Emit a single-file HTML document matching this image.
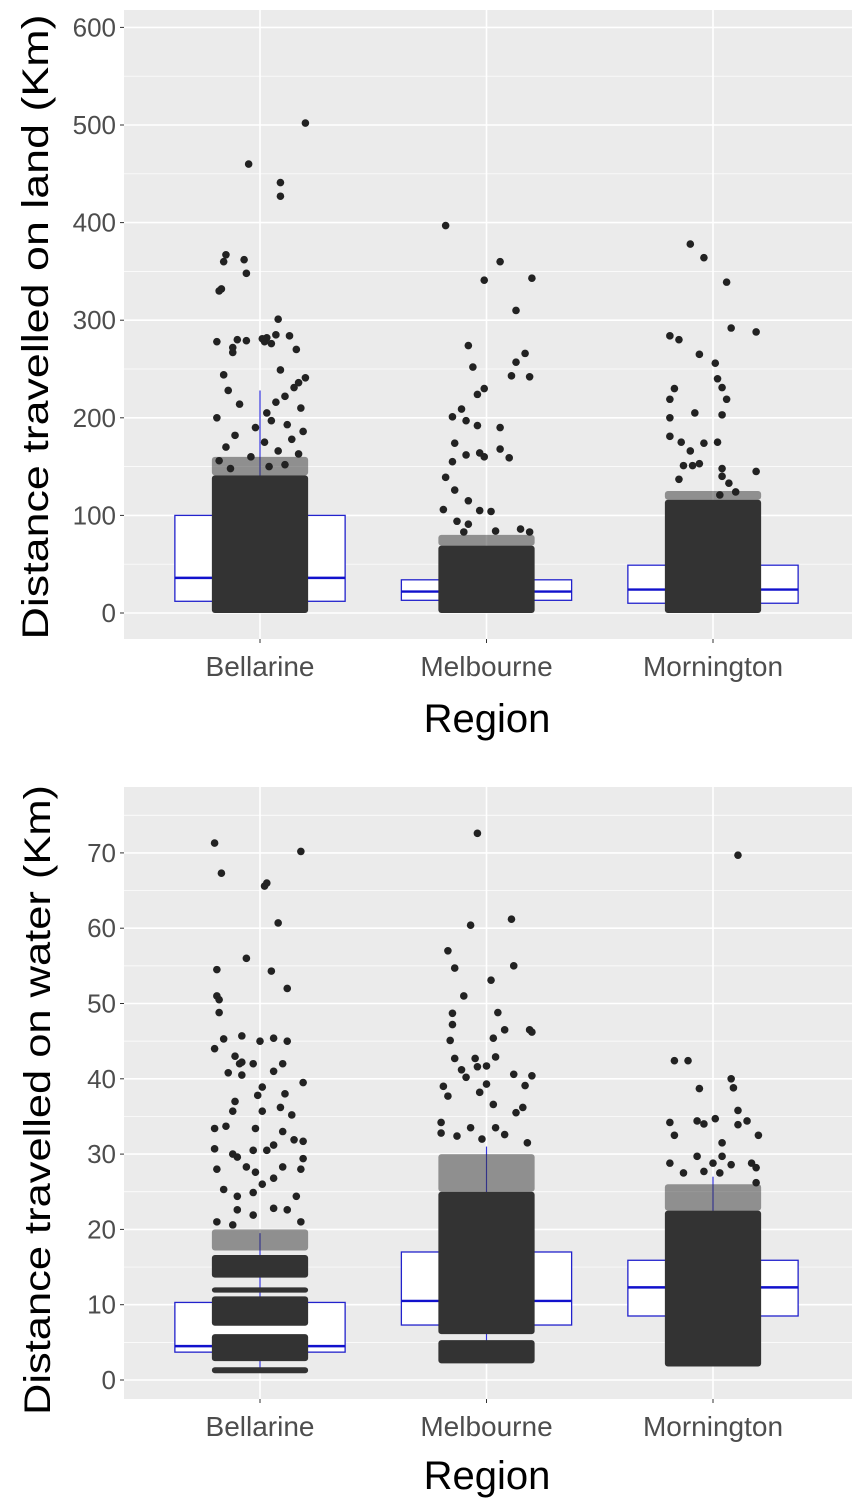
<!DOCTYPE html>
<html><head><meta charset="utf-8">
<style>
html,body{margin:0;padding:0;background:#fff;}
svg{display:block;font-family:"Liberation Sans",Arial,sans-serif;}
</style></head>
<body>
<svg id="chart" width="863" height="1500" viewBox="0 0 863 1500" xmlns="http://www.w3.org/2000/svg">
<defs>
<clipPath id="clipB"><rect x="0" y="786" width="863" height="714"/></clipPath>
</defs>
<g id="land"></g>
<g id="water"></g>
<text transform="translate(48,327) rotate(-90)" text-anchor="middle" font-size="37" fill="#000" textLength="625" lengthAdjust="spacingAndGlyphs">Distance travelled on land (Km)</text>
<text x="487" y="732" text-anchor="middle" font-size="40" fill="#000">Region</text>
<g clip-path="url(#clipB)"><text transform="translate(50,1100) rotate(-90)" text-anchor="middle" font-size="37" fill="#000" textLength="630" lengthAdjust="spacingAndGlyphs">Distance travelled on water (Km)</text></g>
<text x="487" y="1489" text-anchor="middle" font-size="40" fill="#000">Region</text>
</svg>
<script>
const categories = ["Bellarine","Melbourne","Mornington"];
// LAND panel data
const landTicks = [0,100,200,300,400,500,600];
const landBoxQ1 = [12,13,10];
const landBoxMedian = [36,22,24];
const landBoxQ3 = [100,34,49];
const landWhiskerHi = [228,65,105];
const landDenseBands = [[[0,141]],[[0,69]],[[0,116]]];
const landMediumBands = [[[141,160]],[[69,80]],[[116,125]]];
const landOutlierVals = [
 [502,460,441,427,367,360,362,348,332,330,301,278,280,279,281,285,282,284,278,276,272,270,267,244,249,241,236,231,228,222,216,214,210,205,200,197,193,190,186,182,178,175,170,166,163,160,156,152,150,148],
 [397,360,341,343,310,274,252,266,257,243,242,230,224,209,201,197,192,190,174,162,164,160,168,159,155,139,126,115,106,94,105,104,91,83,86,83,84],
 [378,364,339,292,288,284,280,265,256,240,231,219,203,230,219,200,205,181,175,174,175,166,151,151,153,148,145,137,140,133,121,124]
];
const landOutlierJitter = [
 [0.20,-0.05,0.09,0.09,-0.15,-0.16,-0.07,-0.06,-0.17,-0.18,0.08,-0.19,-0.10,-0.06,0.01,0.07,0.03,0.13,0.02,0.05,-0.12,0.16,-0.12,-0.16,0.09,0.20,0.17,0.15,-0.14,0.11,0.07,-0.09,0.18,0.03,-0.19,0.05,0.12,-0.02,0.19,-0.11,0.14,0.02,-0.15,0.08,0.17,-0.04,-0.18,0.11,0.04,-0.13],
 [-0.18,0.06,-0.01,0.20,0.13,-0.08,-0.06,0.17,0.13,0.11,0.19,-0.01,-0.04,-0.11,-0.15,-0.09,-0.04,0.06,-0.14,-0.09,-0.03,-0.01,0.06,0.10,-0.15,-0.18,-0.14,-0.08,-0.19,-0.13,-0.03,0.02,-0.08,-0.10,0.15,0.19,0.04],
 [-0.10,-0.04,0.06,0.08,0.19,-0.19,-0.15,-0.06,0.01,0.02,0.04,0.06,0.04,-0.17,-0.19,-0.19,-0.08,-0.19,-0.14,-0.04,0.02,-0.10,-0.13,-0.09,-0.06,0.04,0.19,-0.15,0.04,0.07,0.03,0.10]
];
// WATER panel data
const waterTicks = [0,10,20,30,40,50,60,70];
const waterBoxQ1 = [3.7,7.3,8.5];
const waterBoxMedian = [4.5,10.5,12.3];
const waterBoxQ3 = [10.3,17,15.9];
const waterWhiskerHi = [19.5,31,27];
const waterWhiskerLo = [1,2.2,1.8];
const waterDenseBands = [[[0.9,1.7],[2.5,6.1],[7.2,11.1],[11.6,12.3],[13.6,16.6]],[[2.2,5.3],[6.1,25]],[[1.8,22.5]]];
const waterMediumBands = [[[17.2,20]],[[25,30]],[[22.5,26]]];
const waterOutlierVals = [
 [71.3,70.2,67.3,66,65.6,60.7,56,54.5,51,54.3,52,50.5,48.8,45.3,44,45.7,45,45.4,45,43,42,42.2,42,42,41,40.8,40.5,39.5,38.9,37.8,38,37,35.7,35.7,36.2,35.2,33.4,33.7,33.4,33,31.9,31.7,31.2,30.7,30,29.6,30.5,30.5,29.4,28,28.3,27.6,26.8,28.3,28,25.3,24.4,24.9,26,24.4,22.6,22.8,22.6,21,20.6,21.9,21],
 [72.6,60.4,61.2,55,57,54.7,51,53.1,46.5,46.5,48.7,48.8,47.2,46.2,45.1,45.4,42.7,42.7,42.9,41.2,41.6,41.7,40.2,40.6,40.4,39,39.3,39.1,37.7,38.2,36.6,35.5,34.2,33.5,33.5,36.2,32.8,32.6,32.4,31.5,32],
 [69.7,42.4,42.4,38.7,40,38.8,34.2,34.4,34.7,34,35.8,34.4,32.5,32.5,31.5,33.9,29.7,28.8,28.6,28.8,28.8,27.5,26.2,27.7,27.5,28.2,29.7]
];
const waterOutlierJitter = [
 [-0.20,0.18,-0.17,0.03,0.02,0.08,-0.06,-0.19,-0.19,0.05,0.12,-0.18,-0.18,-0.16,-0.20,-0.08,0.00,0.06,0.12,-0.11,-0.09,-0.08,-0.03,0.10,0.06,-0.14,-0.08,0.19,0.01,-0.01,0.11,-0.11,-0.12,0.01,0.09,0.14,-0.20,-0.15,-0.02,0.10,0.15,0.19,0.06,-0.20,-0.12,-0.10,-0.03,0.03,0.19,-0.19,-0.06,-0.02,0.06,0.10,0.18,-0.16,-0.10,-0.03,0.01,0.16,-0.10,0.06,0.12,-0.19,-0.12,-0.03,0.18],
 [-0.04,-0.07,0.11,0.12,-0.17,-0.14,-0.10,0.02,0.08,0.19,-0.15,0.05,-0.15,0.20,-0.16,0.03,-0.14,-0.05,0.04,-0.11,-0.04,0.00,-0.09,0.12,0.20,-0.19,0.00,0.17,-0.17,-0.03,0.03,0.13,-0.20,-0.07,0.04,0.16,-0.20,0.08,-0.13,0.18,-0.02],
 [0.11,-0.17,-0.11,-0.06,0.08,0.09,-0.19,-0.07,0.01,-0.04,0.11,0.15,0.20,-0.17,0.04,0.11,-0.07,0.00,0.08,0.17,-0.19,-0.13,0.19,-0.04,0.03,0.19,0.04]
];

const NS = "http://www.w3.org/2000/svg";
function mk(tag, attrs, parent){
  const e = document.createElementNS(NS, tag);
  for (const k in attrs) e.setAttribute(k, attrs[k]);
  parent.appendChild(e);
  return e;
}
function drawPanel(g, cfg){
  const {left,right,top,bottom,y0,pxPerUnit,ticks,minorStep,prefix} = cfg;
  const yS = v => y0 - v*pxPerUnit;
  const xS = (i, j=0) => 260 + i*226.5 + j*227;
  const bg = mk('rect',{x:left,y:top,width:right-left,height:bottom-top,fill:'#ebebeb'},g);
  
  
  for (let i=0;i<ticks.length;i++){
    const m = ticks[i]+minorStep;
    if (yS(m)>top) {
      const gl = mk('line',{x1:left,x2:right,y1:yS(m),y2:yS(m),stroke:'#fff','stroke-width':0.7},g);
      
      
    }
  }
  ticks.forEach(t=>{
    const gl = mk('line',{x1:left,x2:right,y1:yS(t),y2:yS(t),stroke:'#fff','stroke-width':1.6},g);
    
    
    const tk = mk('line',{x1:left-4,x2:left,y1:yS(t),y2:yS(t),stroke:'#333','stroke-width':1},g);
    
    
    const tl = mk('text',{x:left-8,y:yS(t)+9,'text-anchor':'end','font-size':26,fill:'#4d4d4d'},g);
    
    
    tl.textContent = t;
  });
  categories.forEach((c,i)=>{
    const gl = mk('line',{x1:xS(i),x2:xS(i),y1:top,y2:bottom,stroke:'#fff','stroke-width':1.6},g);
    
    
    const tk = mk('line',{x1:xS(i),x2:xS(i),y1:bottom,y2:bottom+4,stroke:'#333','stroke-width':1},g);
    
    
    const tl = mk('text',{x:xS(i),y:bottom+37,'text-anchor':'middle','font-size':28,fill:'#4d4d4d'},g);
    
    
    tl.textContent = c;
  });
  const hw = 0.375*227, jw = 0.212*227;
  categories.forEach((c,i)=>{
    const cx = xS(i);
    const box = mk('rect',{x:cx-hw,y:yS(cfg.q3[i]),width:2*hw,height:yS(cfg.q1[i])-yS(cfg.q3[i]),fill:'#fff',stroke:'#2222cc','stroke-width':1.3},g);
    
    
    const med = mk('line',{x1:cx-hw,x2:cx+hw,y1:yS(cfg.med[i]),y2:yS(cfg.med[i]),stroke:'#1111cc','stroke-width':2.4},g);
    
    
    const wh = mk('line',{x1:cx,x2:cx,y1:yS(cfg.q3[i]),y2:yS(cfg.whi[i]),stroke:'#3333dd','stroke-width':1.2},g);
    
    
    if (cfg.wlo){
      const wl = mk('line',{x1:cx,x2:cx,y1:yS(cfg.q1[i]),y2:yS(cfg.wlo[i]),stroke:'#3333dd','stroke-width':1.2},g);
      
      
    }
    cfg.medium[i].forEach(b=>{
      const r = mk('rect',{x:cx-jw,y:yS(b[1]),width:2*jw,height:yS(b[0])-yS(b[1]),fill:'#333','fill-opacity':0.5,rx:3},g);
      
      
    });
    cfg.dense[i].forEach(b=>{
      const r = mk('rect',{x:cx-jw,y:yS(b[1]),width:2*jw,height:yS(b[0])-yS(b[1]),fill:'#333',rx:3},g);
      
      
    });
    cfg.vals[i].forEach((v,k)=>{
      const p = mk('circle',{cx:xS(i,cfg.jit[i][k]||0),cy:yS(v),r:3.8,fill:'#222'},g);
      
      
    });
  });
}
drawPanel(document.getElementById('land'),{left:124,right:852,top:10,bottom:639,y0:613,pxPerUnit:0.976,ticks:landTicks,minorStep:50,prefix:'land',
  q1:landBoxQ1,med:landBoxMedian,q3:landBoxQ3,whi:landWhiskerHi,dense:landDenseBands,medium:landMediumBands,vals:landOutlierVals,jit:landOutlierJitter});
drawPanel(document.getElementById('water'),{left:124,right:852,top:787,bottom:1399,y0:1380,pxPerUnit:7.53,ticks:waterTicks,minorStep:5,prefix:'water',
  q1:waterBoxQ1,med:waterBoxMedian,q3:waterBoxQ3,whi:waterWhiskerHi,wlo:waterWhiskerLo,dense:waterDenseBands,medium:waterMediumBands,vals:waterOutlierVals,jit:waterOutlierJitter});
</script>
</body></html>
